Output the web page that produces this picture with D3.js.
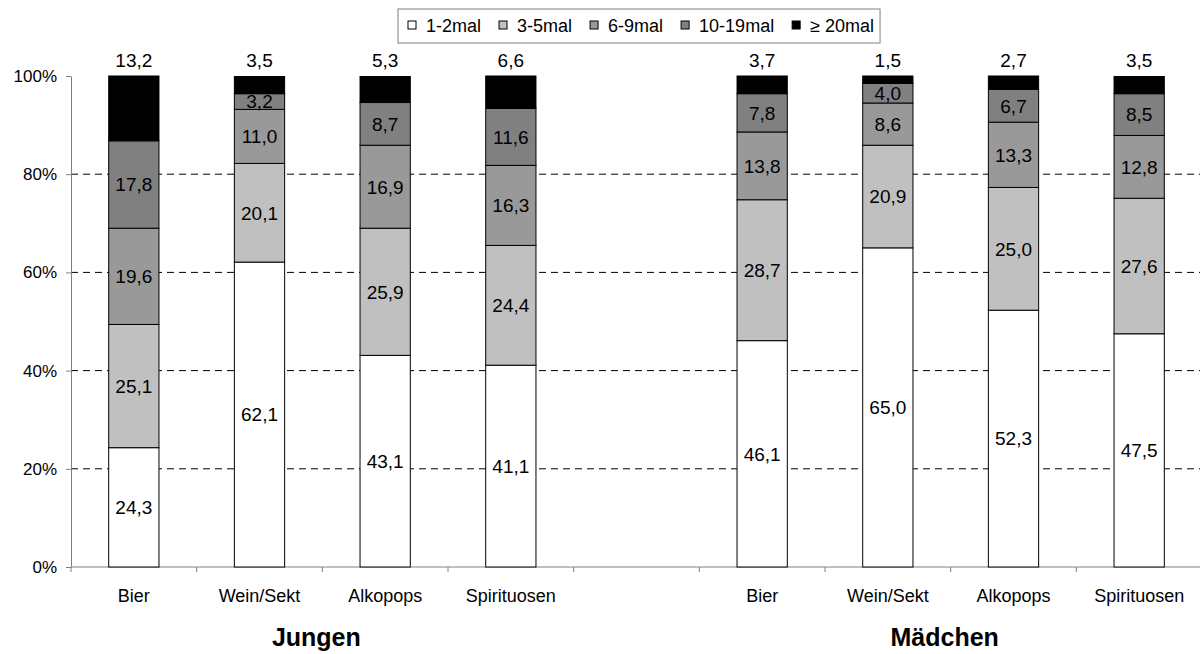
<!DOCTYPE html>
<html>
<head>
<meta charset="utf-8">
<script src="https://cdn.jsdelivr.net/npm/d3@7"></script>
<style>
  body { margin: 0; background: #fff; }
  svg { display: block; font-family: Arial, "Liberation Sans", sans-serif; }
  .axis-y path, .axis-y line { stroke: #808080; }
  .axis-x path { stroke: #000; }
  .axis-x line { stroke: #808080; }
  .axis text { fill: #000; }
</style>
</head>
<body>
<div id="chart"></div>
<script>
const groups = ['Jungen', 'Mädchen'];
const drinks = ['Bier', 'Wein/Sekt', 'Alkopops', 'Spirituosen'];
const frequencies = ['1-2mal', '3-5mal', '6-9mal', '10-19mal', '≥ 20mal'];
const colors = ['#ffffff', '#c0c0c0', '#999999', '#808080', '#000000'];

// percentages per drink, in order of frequencies
const jungenValues = [
  [24.3, 25.1, 19.6, 17.8, 13.2],
  [62.1, 20.1, 11.0, 3.2, 3.5],
  [43.1, 25.9, 16.9, 8.7, 5.3],
  [41.1, 24.4, 16.3, 11.6, 6.6]
];
const maedchenValues = [
  [46.1, 28.7, 13.8, 7.8, 3.7],
  [65.0, 20.9, 8.6, 4.0, 1.5],
  [52.3, 25.0, 13.3, 6.7, 2.7],
  [47.5, 27.6, 12.8, 8.5, 3.5]
];
const yTicks = [0, 20, 40, 60, 80, 100];

const width = 1200, height = 654;
const plot = { left: 71, right: 1202, top: 76, bottom: 567 };

// 9 slots: 4 drinks, an empty spacer, 4 drinks
const rows = [];
drinks.forEach((d, i) => {
  const r = { slot: 'J' + i, drink: d };
  frequencies.forEach((f, k) => { r[f] = jungenValues[i][k]; });
  rows.push(r);
});
const slots = rows.map((r) => r.slot).concat(['gap']);
drinks.forEach((d, i) => {
  const r = { slot: 'M' + i, drink: d };
  frequencies.forEach((f, k) => { r[f] = maedchenValues[i][k]; });
  rows.push(r);
  slots.push(r.slot);
});

const svg = d3.select('#chart').append('svg')
  .attr('width', width).attr('height', height)
  .attr('viewBox', `0 0 ${width} ${height}`);

const x = d3.scaleBand().domain(slots).range([plot.left, plot.right])
  .paddingInner(0.6).paddingOuter(0.3);
const y = d3.scaleLinear().domain([0, 100]).range([plot.bottom, plot.top]);

// dashed gridlines
svg.append('g').selectAll('line')
  .data(yTicks.filter((t) => t > 0 && t < 100))
  .join('line')
  .attr('x1', plot.left).attr('x2', plot.right)
  .attr('y1', (t) => y(t)).attr('y2', (t) => y(t))
  .attr('stroke', '#000').attr('stroke-dasharray', '7,5');

// y axis
svg.append('g').attr('class', 'axis axis-y')
  .attr('transform', `translate(${plot.left},0)`)
  .call(d3.axisLeft(y).tickValues(yTicks).tickFormat((t) => t + '%').tickSize(5).tickSizeOuter(0))
  .call((g) => g.selectAll('text').attr('font-size', 17).attr('dx', '-6'))
  .attr('font-family', null);

// x axis with ticks at slot boundaries
const step = x.step();
const boundaries = d3.range(slots.length + 1).map((i) => plot.left + i * step);
const xa = svg.append('g').attr('class', 'axis axis-x');
xa.append('line')
  .attr('x1', plot.left).attr('x2', plot.right)
  .attr('y1', plot.bottom).attr('y2', plot.bottom)
  .attr('stroke', '#000');
xa.selectAll('line.tick').data(boundaries).join('line').attr('class', 'tick')
  .attr('x1', (b) => b).attr('x2', (b) => b)
  .attr('y1', plot.bottom).attr('y2', plot.bottom + 5)
  .attr('stroke', '#808080');
xa.selectAll('text').data(rows).join('text')
  .attr('x', (r) => x(r.slot) + x.bandwidth() / 2)
  .attr('y', plot.bottom + 35)
  .attr('text-anchor', 'middle').attr('font-size', 18)
  .text((r) => r.drink);

// group titles
groups.forEach((gName, gi) => {
  const first = boundaries[gi * 5];
  const last = boundaries[gi * 5 + 4];
  svg.append('text')
    .attr('x', (first + last) / 2 - 6)
    .attr('y', 646)
    .attr('text-anchor', 'middle')
    .attr('font-size', 25).attr('font-weight', 'bold')
    .text(gName);
});

// stacked bars
const stacked = d3.stack().keys(frequencies)(rows);
const layer = svg.append('g').selectAll('g').data(stacked).join('g')
  .attr('fill', (s, i) => colors[i]);
layer.selectAll('rect').data((s) => s).join('rect')
  .attr('x', (d) => x(d.data.slot))
  .attr('width', x.bandwidth())
  .attr('y', (d) => y(Math.min(d[1], 100)))
  .attr('height', (d) => y(d[0]) - y(Math.min(d[1], 100)))
  .attr('stroke', '#000').attr('stroke-width', 1);

// value labels
const fmt = (v) => v.toFixed(1).replace('.', ',');
stacked.forEach((s, i) => {
  const top = i === frequencies.length - 1;
  svg.append('g').selectAll('text').data(s).join('text')
    .attr('x', (d) => x(d.data.slot) + x.bandwidth() / 2)
    .attr('y', (d) => top ? y(100) - 9 : (y(d[0]) + y(d[1])) / 2)
    .attr('dy', top ? 0 : '0.36em')
    .attr('text-anchor', 'middle').attr('font-size', 19)
    .text((d) => fmt(d.data[s.key]));
});

// legend
const legend = svg.append('g');
const box = legend.append('rect')
  .attr('x', 398).attr('y', 9).attr('height', 34)
  .attr('fill', '#fff').attr('stroke', '#808080');
let lx = 408;
frequencies.forEach((f, i) => {
  legend.append('rect')
    .attr('x', lx).attr('y', 21).attr('width', 8).attr('height', 8)
    .attr('fill', colors[i]).attr('stroke', '#000');
  const t = legend.append('text')
    .attr('x', lx + 18).attr('y', 32)
    .attr('font-size', 18).text(f);
  lx += 18 + t.node().getComputedTextLength() + 18;
});
box.attr('width', lx - 18 + 6 - 398);
</script>
</body>
</html>
